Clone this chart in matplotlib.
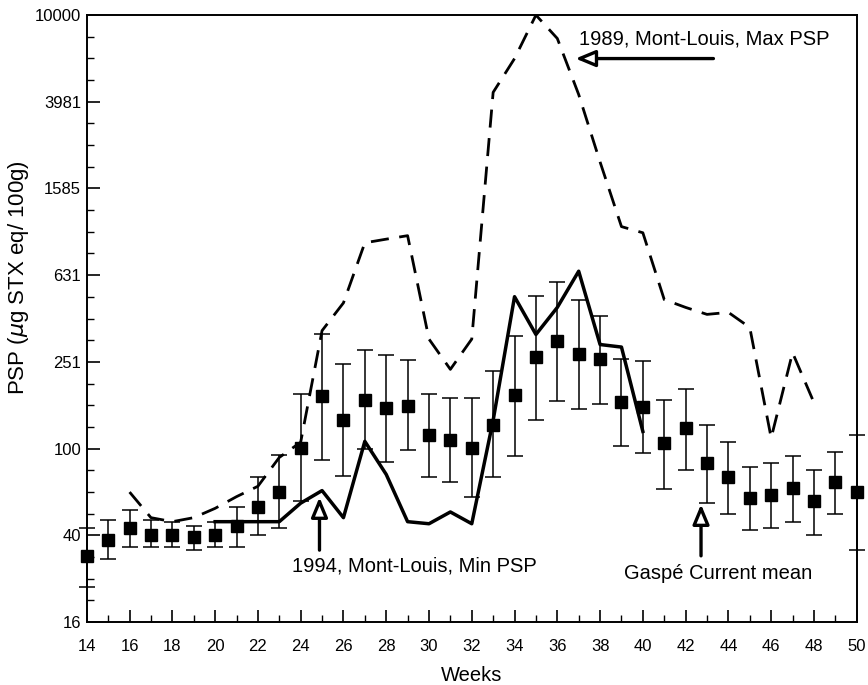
import numpy as np
import matplotlib
matplotlib.use("Agg")
import matplotlib.pyplot as plt
from matplotlib.ticker import FixedLocator, NullFormatter

plt.rcParams['font.family'] = ['Liberation Sans', 'DejaVu Sans']

# Gaspe current mean with error bars (weeks 14-50)
weeks = np.arange(14, 51)
mean_psp = [32, 38, 43, 40, 40, 39, 40, 44, 54, 63, 101, 174, 136, 167, 154, 158, 115, 110, 101,
            129, 176, 265, 313, 274, 258, 164, 155, 106, 124, 86, 74, 59, 61, 66, 57, 70, 63]
upper_psp = [43, 47, 52, 47, 46, 44, 46, 54, 74, 93, 178, 336, 245, 284, 269, 255, 178, 171, 171,
             227, 330, 505, 587, 484, 408, 258, 253, 167, 189, 129, 107, 82, 86, 92, 80, 96, 115]
lower_psp = [23, 31, 35, 35, 35, 34, 35, 35, 40, 43, 57, 89, 75, 100, 87, 98, 74, 70, 60,
             74, 92, 136, 166, 153, 160, 103, 95, 65, 80, 56, 50, 42, 43, 46, 40, 50, 34]

# 1994 Mont-Louis, min PSP
min_weeks = np.arange(20, 41)
min_psp = [46, 46, 46, 46, 56, 64, 48, 108, 76, 46, 45, 51, 45, 135, 502, 336, 448, 658, 302, 294, 120]

# 1989 Mont-Louis, max PSP
max_weeks = np.arange(16, 49)
max_psp = [63, 48, 46, 48, 53, 60, 67, 91, 107, 350, 470, 890, 925, 960, 320, 232, 320, 4400, 6300,
           10000, 7800, 4300, 2100, 1057, 990, 487, 448, 416, 425, 362, 112, 277, 163]

ytick_vals = [10 ** (1.2 + 0.4 * k) for k in range(8)]
ytick_labels = ['16', '40', '100', '251', '631', '1585', '3981', '10000']

fig = plt.figure(figsize=(8.68, 6.85), dpi=100)
ax = fig.add_axes([0.1, 0.092, 0.887, 0.886])
ax.set_yscale('log')

mean_psp = np.array(mean_psp)
yerr = [mean_psp - np.array(lower_psp), np.array(upper_psp) - mean_psp]
ax.errorbar(weeks, mean_psp, yerr=yerr, fmt='s', color='black', ms=8, capsize=5.5,
            elinewidth=1.1, capthick=1.1, clip_on=False, zorder=3)

ax.plot(min_weeks, min_psp, color='black', lw=2.5, zorder=4)
ax.plot(max_weeks, max_psp, color='black', lw=2.0, dashes=(6.5, 3.8), zorder=2)

ax.set_xlim(14, 50)
ax.set_ylim(10 ** 1.2, 10 ** 4)
ax.set_xticks(np.arange(14, 51, 2))
ax.set_xticks(np.arange(15, 50, 2), minor=True)
ax.yaxis.set_major_locator(FixedLocator(ytick_vals))
ax.set_yticklabels(ytick_labels)
minor_y = [10 ** (1.2 + 0.1 * k) for k in range(29) if k % 4 != 0]
ax.yaxis.set_minor_locator(FixedLocator(minor_y))
ax.yaxis.set_minor_formatter(NullFormatter())
ax.tick_params(which='major', direction='in', length=9, width=1.2, labelsize=12)
ax.tick_params(which='minor', direction='in', length=5, width=1.0)
ax.tick_params(axis='x', which='major', pad=12)
ax.tick_params(axis='y', which='major', pad=4)
for s in ax.spines.values():
    s.set_linewidth(1.4)

ax.set_xlabel('Weeks', fontsize=14.5)
ax.xaxis.set_label_coords(0.5, -0.073)
ax.set_ylabel(r'PSP ($\mu$g STX eq/ 100g)', fontsize=16)
ax.yaxis.set_label_coords(-0.073, 0.567)

arrow = dict(arrowstyle='-|>,head_length=1.2,head_width=0.5', fc='white', ec='black', lw=2.4,
             shrinkA=0, shrinkB=0)
ax.annotate('', xy=(36.85, 6300), xytext=(43.3, 6300), arrowprops=arrow)
ax.text(37.0, 7750, '1989, Mont-Louis, Max PSP', fontsize=14.5, va='center', ha='left')

ax.annotate('', xy=(24.88, 59.6), xytext=(24.88, 34.0), arrowprops=arrow)
ax.text(23.58, 28.7, '1994, Mont-Louis, Min PSP', fontsize=14.5, va='center', ha='left')

ax.annotate('', xy=(42.72, 55.3), xytext=(42.72, 32.0), arrowprops=arrow)
ax.text(39.14, 26.6, 'Gaspé Current mean', fontsize=14.5, va='center', ha='left')

fig.savefig('out.png', dpi=100)
